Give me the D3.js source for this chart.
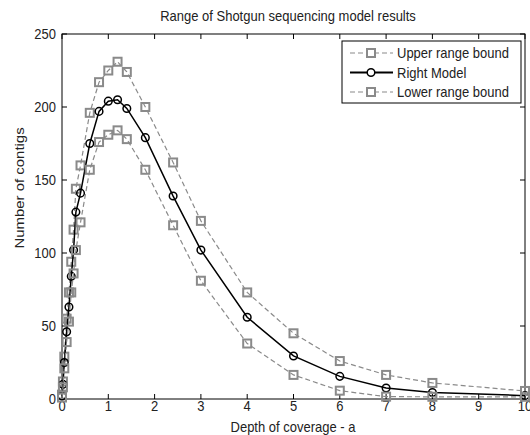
<!DOCTYPE html>
<html>
<head>
<meta charset="utf-8">
<script src="https://cdn.jsdelivr.net/npm/d3@7"></script>
<style>
  body { margin: 0; background: #fff; }
  text { font-family: Arial, "Liberation Sans", sans-serif; fill: #222; }
</style>
</head>
<body>
<div id="chart"></div>
<script>
// depth of coverage values (x)
const depth = [0, 0.02, 0.05, 0.1, 0.15, 0.2, 0.25, 0.3, 0.4, 0.6, 0.8, 1.0, 1.2, 1.4, 1.8, 2.4, 3, 4, 5, 6, 7, 8, 10];
const upperBound = [3, 12, 29, 55, 73, 94, 116, 144, 160, 196, 217, 225, 231, 224, 200, 162, 122, 73, 45, 26, 16.5, 11, 5.5];
const rightModel = [2, 10, 25, 46, 63, 84, 102, 128, 141, 175, 197, 204, 205, 199, 179, 139, 102, 56, 29.5, 15.5, 7.5, 4.5, 2.3];
const lowerBound = [1, 8, 21, 39, 53, 73, 86, 102, 121, 157, 176, 181, 184, 178, 157, 119, 81, 38, 16.5, 5.7, 1.6, 1.5, 1.5];

const xTicks = [0, 1, 2, 3, 4, 5, 6, 7, 8, 9, 10];
const yTicks = [0, 50, 100, 150, 200, 250];
const seriesNames = ["Upper range bound", "Right Model", "Lower range bound"];

const W = 530, H = 435;
const pLeft = 62, pRight = 525, pTop = 34, pBottom = 399;
const fs = 13, vStretch = 1.15;

const svg = d3.select('#chart').append('svg')
    .attr('width', W).attr('height', H);

const x = d3.scaleLinear().domain([0, 10]).range([pLeft, pRight]);
const y = d3.scaleLinear().domain([0, 250]).range([pBottom, pTop]);

// helper for slightly tall text (source image is stretched vertically)
function label(g, tx, ty, str, anchor, rot) {
    return g.append('text')
        .attr('transform', rot
            ? `translate(${tx},${ty}) rotate(-90) scale(${vStretch},1)`
            : `translate(${tx},${ty}) scale(1,${vStretch})`)
        .attr('text-anchor', anchor)
        .style('font-size', fs + 'px')
        .text(str);
}

// axes box with inward ticks on all sides
const ax = svg.append('g');
ax.append('rect')
    .attr('x', pLeft).attr('y', pTop)
    .attr('width', pRight - pLeft).attr('height', pBottom - pTop)
    .attr('fill', 'none').attr('stroke', '#000').attr('stroke-width', 1);

xTicks.forEach(d => {
    ax.append('line').attr('x1', x(d)).attr('x2', x(d)).attr('y1', pBottom).attr('y2', pBottom - 5).attr('stroke', '#000');
    ax.append('line').attr('x1', x(d)).attr('x2', x(d)).attr('y1', pTop).attr('y2', pTop + 5).attr('stroke', '#000');
    label(ax, x(d), 411, d, 'middle');
});
yTicks.forEach(d => {
    ax.append('line').attr('x1', pLeft).attr('x2', pLeft + 5).attr('y1', y(d)).attr('y2', y(d)).attr('stroke', '#000');
    ax.append('line').attr('x1', pRight).attr('x2', pRight - 5).attr('y1', y(d)).attr('y2', y(d)).attr('stroke', '#000');
    label(ax, 56, y(d) + 5, d, 'end');
});

label(svg, 288, 21, 'Range of Shotgun sequencing model results', 'middle');
label(svg, 293, 432, 'Depth of coverage - a', 'middle');
label(svg, 24, 188, 'Number of contigs', 'middle', true);

const line = d3.line().x(d => x(d[0])).y(d => y(d[1]));
const gray = '#8a8a8a';

function drawBound(vals) {
    const pts = depth.map((d, i) => [d, vals[i]]);
    const g = svg.append('g');
    g.append('path').datum(pts).attr('d', line)
        .attr('fill', 'none').attr('stroke', gray)
        .attr('stroke-width', 1.2).attr('stroke-dasharray', '5,3');
    g.selectAll('rect').data(pts).enter().append('rect')
        .attr('x', d => x(d[0]) - 4).attr('y', d => y(d[1]) - 4)
        .attr('width', 8).attr('height', 8)
        .attr('fill', 'none').attr('stroke', gray).attr('stroke-width', 2);
}

drawBound(upperBound);

const modelPts = depth.map((d, i) => [d, rightModel[i]]);
const gm = svg.append('g');
gm.append('path').datum(modelPts).attr('d', line)
    .attr('fill', 'none').attr('stroke', '#000').attr('stroke-width', 1.5);
gm.selectAll('circle').data(modelPts).enter().append('circle')
    .attr('cx', d => x(d[0])).attr('cy', d => y(d[1])).attr('r', 3.8)
    .attr('fill', 'none').attr('stroke', '#000').attr('stroke-width', 1.5);

drawBound(lowerBound);

// legend
const lg = svg.append('g');
lg.append('rect').attr('x', 342).attr('y', 41)
    .attr('width', 179).attr('height', 62)
    .attr('fill', '#fff').attr('stroke', '#000').attr('stroke-width', 1);
seriesNames.forEach((name, i) => {
    const ly = 53 + i * 19.5;
    const isModel = i === 1;
    lg.append('line').attr('x1', 350).attr('x2', 393).attr('y1', ly).attr('y2', ly)
        .attr('stroke', isModel ? '#000' : gray)
        .attr('stroke-width', isModel ? 2 : 1.2)
        .attr('stroke-dasharray', isModel ? null : '5,3');
    if (isModel) {
        lg.append('circle').attr('cx', 371).attr('cy', ly).attr('r', 3.8)
            .attr('fill', '#fff').attr('stroke', '#000').attr('stroke-width', 1.5);
    } else {
        lg.append('rect').attr('x', 367).attr('y', ly - 4).attr('width', 8).attr('height', 8)
            .attr('fill', '#fff').attr('stroke', gray).attr('stroke-width', 2);
    }
    label(lg, 397, ly + 5, name, 'start');
});
</script>
</body>
</html>
